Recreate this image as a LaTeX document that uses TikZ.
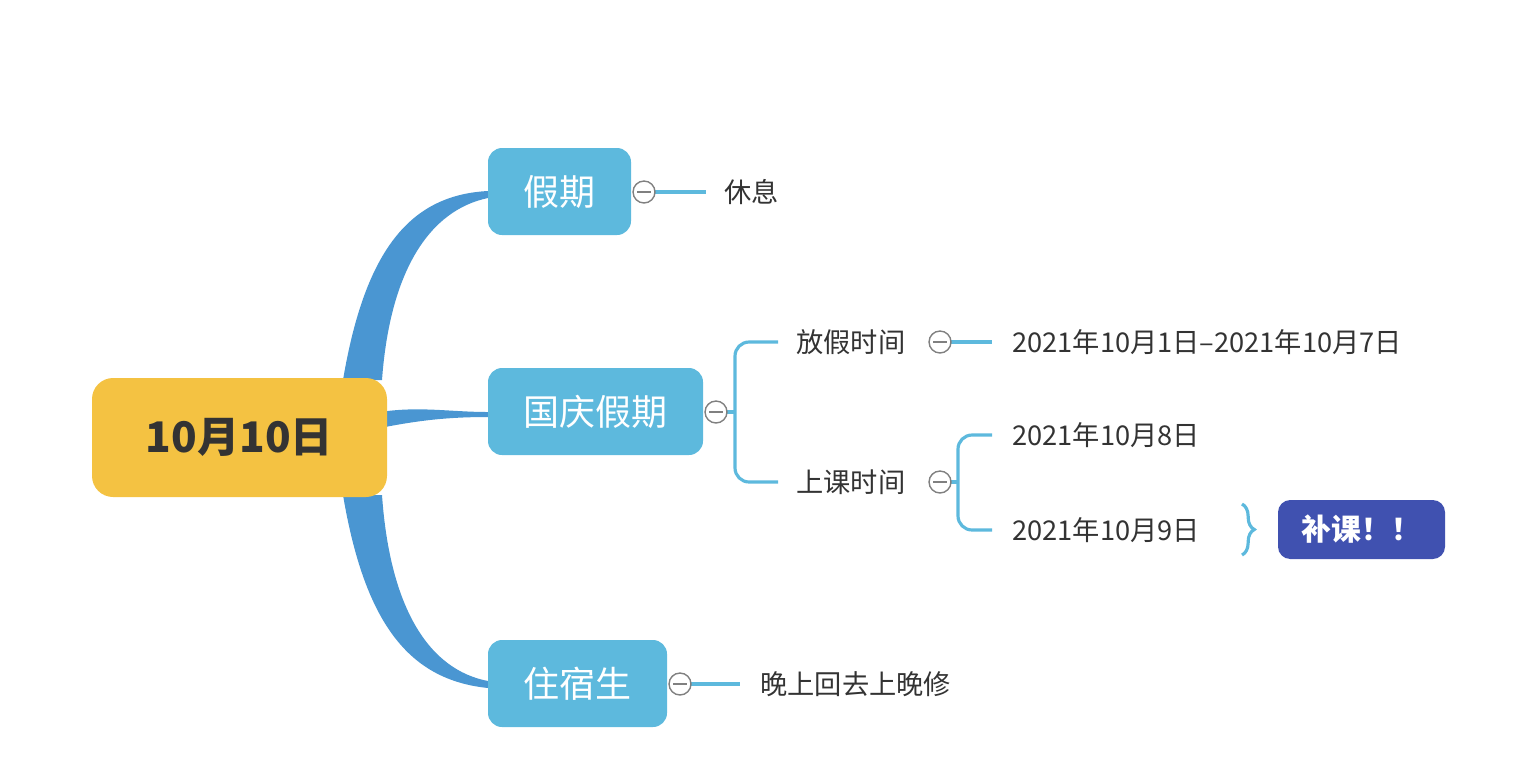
\documentclass[tikz,border=0pt]{standalone}
\usepackage{fontspec}
\setmainfont{Noto Sans CJK SC}
\usetikzlibrary{decorations.pathreplacing}
\definecolor{rootyel}{HTML}{F4C242}
\definecolor{topicblu}{HTML}{5DB9DD}
\definecolor{branchblu}{HTML}{4A96D2}
\definecolor{notepur}{HTML}{4051B0}
\definecolor{txtgray}{HTML}{333333}
\tikzset{
	topic/.style={fill=topicblu,rounded corners=8pt,text=white,font=\fontsize{20.5}{24}\selectfont},
	leaf/.style={text=txtgray,font=\fontsize{15.5}{18}\selectfont,anchor=west,inner sep=0pt},
	fold/.style={circle,draw=gray,fill=white,minimum size=12.5pt,inner sep=0pt,line width=0.8pt},
	link/.style={draw=topicblu,line width=1.8pt,rounded corners=8pt}
}
\begin{document}
\begin{tikzpicture}[x=0.02cm,y=-0.02cm]
	\useasboundingbox (0,0) rectangle (1540,782);
	% main branches
	\fill[branchblu] (343,380) .. controls (365,250) and (410,195) .. (488,191)
		-- (488,198) .. controls (430,210) and (390,270) .. (382,380) -- cycle;
	\fill[branchblu] (380,412) .. controls (420,406) and (450,412) .. (488,412)
		-- (488,417) .. controls (450,417) and (420,420) .. (380,428) -- cycle;
	\fill[branchblu] (343,495) .. controls (365,625) and (410,680) .. (488,688)
		-- (488,681) .. controls (430,670) and (390,610) .. (382,495) -- cycle;
	\node[fill=rootyel,rounded corners=12pt,minimum width=295*0.02cm,minimum height=119*0.02cm,
		text=txtgray,font=\fontsize{24}{28}\selectfont\bfseries] (root) at (239.5,437.5) {10月10日};
	\node[topic,minimum width=143*0.02cm,minimum height=87*0.02cm] (hol) at (559.5,191.5) {假期};
	\node[topic,minimum width=215*0.02cm,minimum height=87*0.02cm] (nat) at (595.5,411.5) {国庆假期};
	\node[topic,minimum width=179*0.02cm,minimum height=87*0.02cm] (dorm) at (577.5,683.5) {住宿生};
	% leaves
	\node[leaf] (rest) at (724,192) {休息};
	\node[leaf] (off) at (796,342) {放假时间};
	\node[leaf] (offd) at (1012,342) {2021年10月1日–2021年10月7日};
	\node[leaf] (cls) at (796,482) {上课时间};
	\node[leaf] (clsa) at (1012,435) {2021年10月8日};
	\node[leaf] (clsb) at (1012,530) {2021年10月9日};
	\node[leaf] (night) at (760,684) {晚上回去上晚修};
	\node[fill=notepur,rounded corners=7pt,text=white,minimum width=167*0.02cm,minimum height=59*0.02cm,
		font=\fontsize{17}{20}\selectfont\bfseries] (extra) at (1361.5,529.5) {补课！！};
	% connectors
	\coordinate (fa) at (644,192);
	\coordinate (fb) at (716,412);
	\coordinate (fc) at (940,342);
	\coordinate (fd) at (940,482);
	\coordinate (fe) at (680,684);
	\draw[link] (fa) -- ([xshift=-18*0.02cm]rest.west);
	\draw[link] (fc) -- ([xshift=-20*0.02cm]offd.west);
	\draw[link] (fe) -- ([xshift=-20*0.02cm]night.west);
	\draw[link] (fb) -- (735,412);
	\draw[link] ([xshift=-18*0.02cm]off.west) -- (735,342) -- (735,482) -- ([xshift=-18*0.02cm]cls.west);
	\draw[link] (fd) -- (958,482);
	\draw[link] ([xshift=-20*0.02cm]clsa.west) -- (958,435) -- (958,530) -- ([xshift=-20*0.02cm]clsb.west);
	\draw[draw=topicblu,line width=1.8pt,decorate,decoration={brace,amplitude=7pt}] (1242,504) -- (1242,555);
	\foreach \f in {fa,fb,fc,fd,fe}
	{\node[fold] at (\f) {};
	\draw[gray,line width=0.8pt] ([xshift=-7*0.02cm]\f) -- ([xshift=7*0.02cm]\f);}
\end{tikzpicture}
\end{document}
